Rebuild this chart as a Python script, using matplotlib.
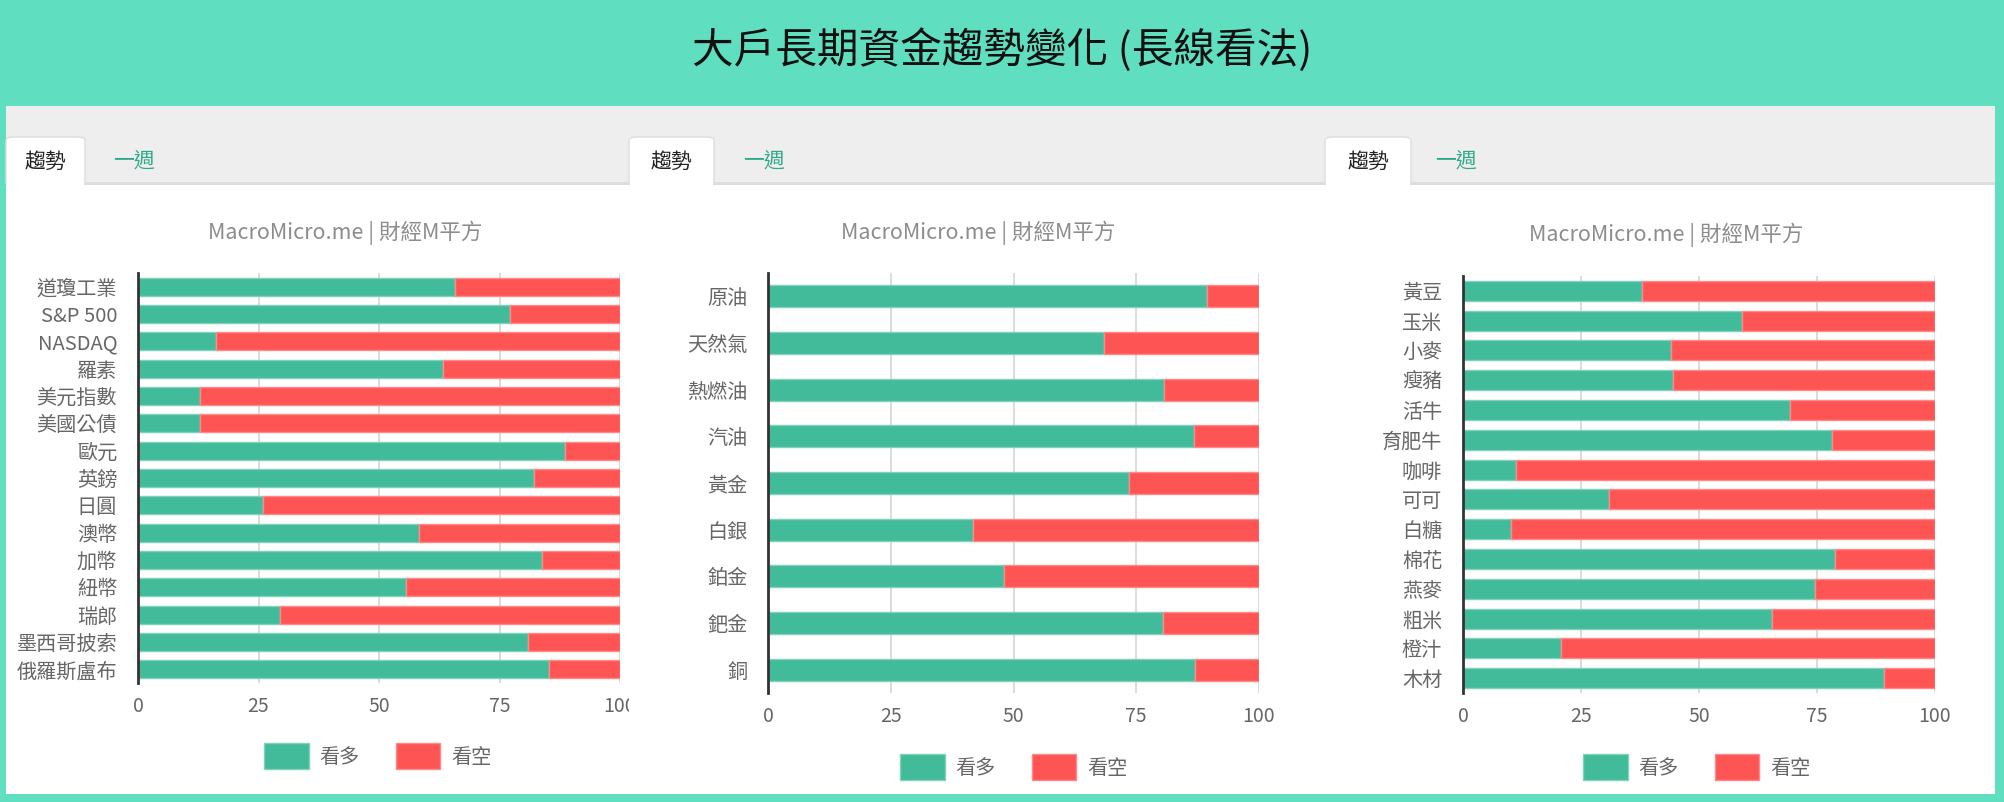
import matplotlib
matplotlib.use("Agg")
import matplotlib.pyplot as plt
from matplotlib.patches import Rectangle, FancyBboxPatch, Patch

plt.rcParams['font.family'] = ['Noto Sans CJK TC', 'DejaVu Sans']

# ---------------- data ----------------
title = "大戶長期資金趨勢變化 (長線看法)"
subtitle = "MacroMicro.me | 財經M平方"
tab_labels = ["趨勢", "一週"]
series_names = ["看多", "看空"]
x_ticks = [0, 25, 50, 75, 100]

left_cats = ['道瓊工業', 'S&P 500', 'NASDAQ', '羅素', '美元指數', '美國公債', '歐元', '英鎊',
             '日圓', '澳幣', '加幣', '紐幣', '瑞郎', '墨西哥披索', '俄羅斯盧布']
left_bull = [65.8, 77.2, 16.2, 63.3, 12.8, 12.8, 88.6, 82.2, 26.0, 58.3, 83.8, 55.7, 29.5, 81.0, 85.3]
left_bear = [34.2, 22.8, 83.8, 36.7, 87.2, 87.2, 11.4, 17.8, 74.0, 41.7, 16.2, 44.3, 70.5, 19.0, 14.7]

mid_cats = ['原油', '天然氣', '熱燃油', '汽油', '黃金', '白銀', '鉑金', '鈀金', '銅']
mid_bull = [89.4, 68.5, 80.7, 86.8, 73.5, 41.7, 48.1, 80.4, 86.9]
mid_bear = [10.6, 31.5, 19.3, 13.2, 26.5, 58.3, 51.9, 19.6, 13.1]

right_cats = ['黃豆', '玉米', '小麥', '瘦豬', '活牛', '育肥牛', '咖啡', '可可', '白糖', '棉花',
              '燕麥', '粗米', '橙汁', '木材']
right_bull = [37.9, 59.2, 44.0, 44.4, 69.3, 78.1, 11.2, 31.0, 10.1, 78.9, 74.6, 65.5, 20.8, 89.3]
right_bear = [62.1, 40.8, 56.0, 55.6, 30.7, 21.9, 88.8, 69.0, 89.9, 21.1, 25.4, 34.5, 79.2, 10.7]

# ---------------- style ----------------
W, H = 2004, 802
TEAL = '#60DFC0'
GREEN = '#42BB9A'
GREEN_EDGE = '#7FD3BC'
RED = '#FF5454'
RED_EDGE = '#FF8A8A'
GRAY_TXT = '#666666'
SUB_TXT = '#8c8c8c'
TAB_TEAL = '#2BA888'

fig = plt.figure(figsize=(W / 100, H / 100), dpi=100, facecolor=TEAL)


def fx(x):
    return x / W


def fy(y):
    return 1 - y / H


def rect(x0, y0, x1, y1, **kw):
    r = Rectangle((fx(x0), fy(y1)), fx(x1) - fx(x0), fy(y0) - fy(y1),
                  transform=fig.transFigure, **kw)
    fig.patches.append(r)
    return r


# white body + gray tab band
rect(6, 106, 1995, 794, facecolor='white', edgecolor='none', zorder=-3)
rect(6, 106, 1995, 184, facecolor='#EEEEEE', edgecolor='none', zorder=-2)
rect(6, 182, 1995, 185, facecolor='#DDDDDD', edgecolor='none', zorder=-2)

fig.text(0.5, fy(50), title, ha='center', va='center', fontsize=30, color='#111111')

tabs = [(6, 85), (629, 714), (1325, 1411)]
week_offsets = [128, 135, 131]
for (t0, t1), wo in zip(tabs, week_offsets):
    tb = FancyBboxPatch((fx(t0), fy(186)), fx(t1) - fx(t0), fy(137) - fy(186),
                        boxstyle="round,pad=0,rounding_size=0.004",
                        transform=fig.transFigure, facecolor='white',
                        edgecolor='#DDDDDD', linewidth=1, zorder=-1)
    fig.patches.append(tb)
    rect(t0 + 1, 180, t1 - 1, 190, facecolor='white', edgecolor='none', zorder=-1)
    fig.text(fx((t0 + t1) / 2), fy(162), tab_labels[0], ha='center', va='center',
             fontsize=15, color='#222222')
    fig.text(fx(t0 + wo), fy(162), tab_labels[1], ha='center', va='center',
             fontsize=15, color=TAB_TEAL)

panels = [
    dict(cats=left_cats, bull=left_bull, bear=left_bear, box=(138, 273, 620, 683),
         h=0.67, sub=(345, 233), leg=(378, 756), clip=629),
    dict(cats=mid_cats, bull=mid_bull, bear=mid_bear, box=(768, 273, 1259, 693),
         h=0.47, sub=(978, 233), leg=(1014, 767), clip=None),
    dict(cats=right_cats, bull=right_bull, bear=right_bear, box=(1463, 276, 1935, 693),
         h=0.67, sub=(1666, 235), leg=(1697, 767), clip=None),
]

for p in panels:
    x0, y0, x1, y1 = p['box']
    ax = fig.add_axes([fx(x0), fy(y1), fx(x1) - fx(x0), fy(y0) - fy(y1)])
    ax.set_zorder(5)
    ax.set_facecolor('none')
    n = len(p['cats'])
    ypos = list(range(n))
    ax.barh(ypos, p['bull'], height=p['h'], color=GREEN, edgecolor=GREEN_EDGE,
            linewidth=1, label=series_names[0], zorder=3)
    ax.barh(ypos, p['bear'], left=p['bull'], height=p['h'], color=RED,
            edgecolor=RED_EDGE, linewidth=1, label=series_names[1], zorder=3)
    ax.set_xlim(0, 100)
    ax.set_ylim(n - 0.5, -0.5)
    ax.set_yticks(ypos)
    ax.set_yticklabels(p['cats'])
    ax.set_xticks(x_ticks)
    ax.set_xticklabels([str(t) for t in x_ticks])
    ax.tick_params(axis='y', length=0, pad=15, labelsize=14.5, labelcolor=GRAY_TXT)
    ax.tick_params(axis='x', length=0, pad=9, labelsize=14, labelcolor=GRAY_TXT)
    ax.grid(axis='x', color='#D5D5D5', linewidth=1.2, zorder=0)
    ax.set_axisbelow(True)
    for s in ['top', 'right', 'bottom']:
        ax.spines[s].set_visible(False)
    ax.spines['left'].set_color('#333333')
    ax.spines['left'].set_linewidth(2)
    ax.spines['left'].set_zorder(5)

    fig.text(fx(p['sub'][0]), fy(p['sub'][1]), subtitle, ha='center', va='center',
             fontsize=15.5, color=SUB_TXT)

    if p['clip'] is not None:
        cr = Rectangle((0, 0), fx(p['clip']), 1, transform=fig.transFigure,
                       facecolor='none', edgecolor='none')
        for lbl in ax.get_xticklabels():
            lbl.set_clip_path(cr)

    handles = [Patch(facecolor=GREEN, edgecolor=GREEN_EDGE),
               Patch(facecolor=RED, edgecolor=RED_EDGE)]
    fig.legend(handles, series_names, loc='center',
               bbox_to_anchor=(fx(p['leg'][0]), fy(p['leg'][1])),
               bbox_transform=fig.transFigure, ncol=2, frameon=False,
               fontsize=14.5, handlelength=2.2, handleheight=1.6,
               handletextpad=0.55, columnspacing=1.8, labelcolor=GRAY_TXT,
               borderpad=0, borderaxespad=0)

fig.savefig('out.png', dpi=100, facecolor=TEAL)
